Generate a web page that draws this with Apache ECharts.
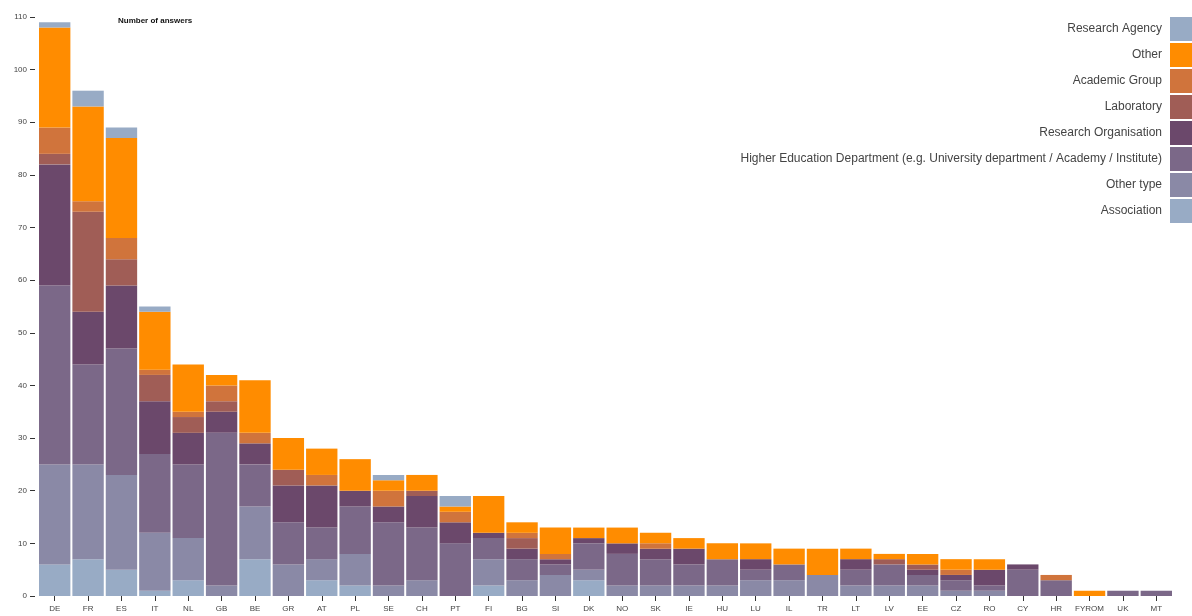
<!DOCTYPE html>
<html>
<head>
<meta charset="utf-8">
<script src="https://cdn.jsdelivr.net/npm/echarts@6/dist/echarts.min.js"></script>
<style>
  html, body { margin: 0; padding: 0; background: #fff; }
  #chart { width: 1192px; height: 616px; }
</style>
</head>
<body>
<div id="chart"></div>
<script>
const categories = ['DE','FR','ES','IT','NL','GB','BE','GR','AT','PL','SE','CH','PT','FI','BG','SI','DK','NO','SK','IE','HU','LU','IL','TR','LT','LV','EE','CZ','RO','CY','HR','FYROM','UK','MT'];

const association      = [6,7,5,1,3,0,7,0,3,2,0,0,0,2,0,0,3,0,0,0,0,0,0,0,0,0,0,0,0,0,0,0,0,0];
const otherType        = [19,18,18,11,8,2,10,6,4,6,2,3,0,5,3,4,2,2,2,2,2,3,3,4,2,2,2,1,1,0,0,0,0,0];
const higherEducation  = [34,19,24,15,14,29,8,8,6,9,12,10,10,4,4,2,5,6,5,4,5,2,3,0,3,4,2,2,1,5,3,0,1,1];
const researchOrg      = [23,10,12,10,6,4,4,7,8,3,3,6,4,1,2,1,1,2,2,3,0,2,0,0,2,0,1,1,3,1,0,0,0,0];
const laboratory       = [2,19,5,5,3,2,0,3,0,0,0,1,0,0,2,0,0,0,0,0,0,0,0,0,0,1,1,0,0,0,0,0,0,0];
const academicGroup    = [5,2,4,1,1,3,2,0,2,0,3,0,2,0,1,1,0,0,1,0,0,0,0,0,0,0,0,1,0,0,1,0,0,0];
const other            = [19,18,19,11,9,2,10,6,5,6,2,3,1,7,2,5,2,3,2,2,3,3,3,5,2,1,2,2,2,0,0,1,0,0];
const researchAgency   = [1,3,2,1,0,0,0,0,0,0,1,0,2,0,0,0,0,0,0,0,0,0,0,0,0,0,0,0,0,0,0,0,0,0];

const yTicks = { min: 0, max: 110, interval: 10 };

const seriesDefs = [
  { name: 'Association', data: association, color: '#98abc5' },
  { name: 'Other type', data: otherType, color: '#8a89a6' },
  { name: 'Higher Education Department (e.g. University department / Academy / Institute)', data: higherEducation, color: '#7b6888' },
  { name: 'Research Organisation', data: researchOrg, color: '#6b486b' },
  { name: 'Laboratory', data: laboratory, color: '#a05d56' },
  { name: 'Academic Group', data: academicGroup, color: '#d0743c' },
  { name: 'Other', data: other, color: '#ff8c00' },
  { name: 'Research Agency', data: researchAgency, color: '#98abc5' }
];

const font = "'Liberation Sans', Arial, sans-serif";
const chart = echarts.init(document.getElementById('chart'), null, { renderer: 'canvas' });

chart.setOption({
  animation: false,
  textStyle: { fontFamily: font },
  title: {
    text: 'Number of answers',
    left: 113, top: 12,
    textStyle: { fontSize: 8, fontWeight: 'bold', color: '#111', fontFamily: font }
  },
  legend: {
    orient: 'vertical',
    right: 0, top: 17,
    padding: 0,
    align: 'right',
    itemWidth: 22, itemHeight: 24, itemGap: 2,
    icon: 'rect',
    selectedMode: false,
    textStyle: { fontSize: 12, color: '#444', fontFamily: font, padding: [0, 3, 0, 0] },
    data: seriesDefs.slice().reverse().map(s => s.name)
  },
  grid: { left: 38, right: 19, top: 17, bottom: 20, containLabel: false },
  xAxis: {
    type: 'category',
    data: categories,
    offset: 2,
    axisLine: { show: false },
    axisTick: { show: true, alignWithLabel: true, length: 5, lineStyle: { color: '#333' } },
    axisLabel: { fontSize: 8, color: '#444', margin: 7, interval: 0, fontFamily: font }
  },
  yAxis: {
    type: 'value',
    min: yTicks.min, max: yTicks.max, interval: yTicks.interval,
    offset: 3,
    splitLine: { show: false },
    axisLine: { show: false },
    axisTick: { show: true, length: 5, lineStyle: { color: '#333' } },
    axisLabel: { fontSize: 8, color: '#444', margin: 8, fontFamily: font }
  },
  series: seriesDefs.map(s => ({
    name: s.name,
    type: 'bar',
    stack: 'total',
    data: s.data,
    barCategoryGap: '6%',
    itemStyle: { color: s.color },
    emphasis: { disabled: true }
  }))
});
</script>
</body>
</html>
